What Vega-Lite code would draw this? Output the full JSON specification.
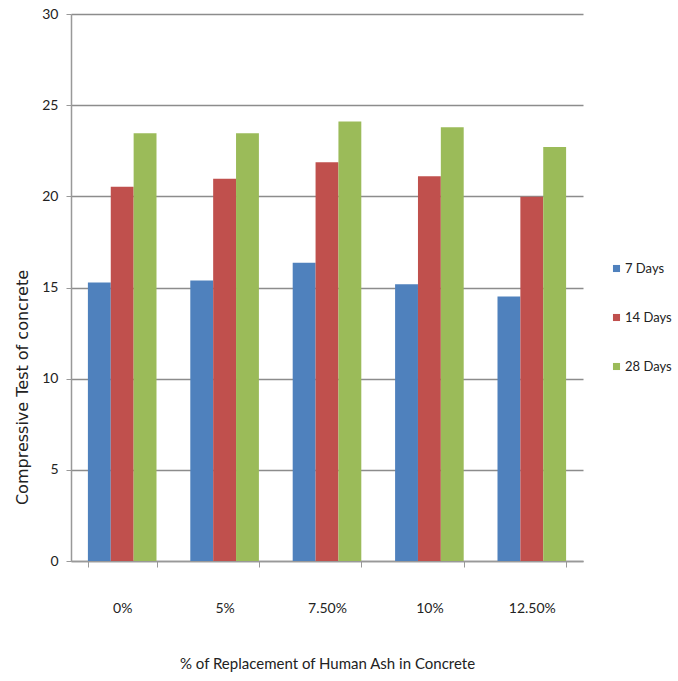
{
  "$schema": "https://vega.github.io/schema/vega-lite/v6.json",
  "width": 512,
  "height": 547,
  "autosize": {"type": "none"},
  "padding": {"left": 71, "top": 14, "right": 95, "bottom": 120},
  "background": "white",
  "data": {
    "values": [
      {"pct": "0%", "age": "7 Days", "v": 15.27},
      {"pct": "0%", "age": "14 Days", "v": 20.53},
      {"pct": "0%", "age": "28 Days", "v": 23.46},
      {"pct": "5%", "age": "7 Days", "v": 15.38},
      {"pct": "5%", "age": "14 Days", "v": 20.97},
      {"pct": "5%", "age": "28 Days", "v": 23.46},
      {"pct": "7.50%", "age": "7 Days", "v": 16.36},
      {"pct": "7.50%", "age": "14 Days", "v": 21.87},
      {"pct": "7.50%", "age": "28 Days", "v": 24.1},
      {"pct": "10%", "age": "7 Days", "v": 15.18},
      {"pct": "10%", "age": "14 Days", "v": 21.1},
      {"pct": "10%", "age": "28 Days", "v": 23.79},
      {"pct": "12.50%", "age": "7 Days", "v": 14.5},
      {"pct": "12.50%", "age": "14 Days", "v": 19.98},
      {"pct": "12.50%", "age": "28 Days", "v": 22.71}
    ]
  },
  "config": {
    "font": "Lato",
    "view": {"stroke": null},
    "axis": {"labelFont": "Lato", "titleFont": "Lato", "labelColor": "#222", "titleColor": "#222", "titleFontWeight": "normal"}
  },
  "mark": {"type": "bar"},
  "encoding": {
    "x": {
      "field": "pct", "type": "nominal",
      "sort": ["0%", "5%", "7.50%", "10%", "12.50%"],
      "scale": {"paddingInner": 0.33, "paddingOuter": 0.165},
      "axis": {
        "title": "% of Replacement of Human Ash in Concrete",
        "titleFontSize": 15, "titlePadding": 41,
        "labelAngle": 0, "labelFontSize": 14, "labelPadding": 34,
        "tickBand": "extent", "tickSize": 6, "tickColor": "#999", "domainColor": "#999", "domainWidth": 1.5,
        "grid": false
      }
    },
    "xOffset": {"field": "age", "type": "nominal", "sort": ["7 Days", "14 Days", "28 Days"]},
    "y": {
      "field": "v", "type": "quantitative",
      "scale": {"domain": [0, 30]},
      "axis": {
        "title": "Compressive Test of concrete",
        "titleFont": "DejaVu Sans",
        "titleFontSize": 16, "titleX": -49, "titleY": 373, "titleBaseline": "middle", "titleAlign": "center", "titleAngle": -90,
        "values": [0, 5, 10, 15, 20, 25, 30],
        "labelFontSize": 14, "labelPadding": 8,
        "tickSize": 5, "tickColor": "#999", "domainColor": "#999", "domainWidth": 1.5,
        "gridColor": "#8c8c8c", "gridWidth": 1.5
      }
    },
    "color": {
      "field": "age", "type": "nominal",
      "sort": ["7 Days", "14 Days", "28 Days"],
      "scale": {"domain": ["7 Days", "14 Days", "28 Days"], "range": ["#4F81BD", "#C0504D", "#9BBB59"]},
      "legend": {
        "title": null, "orient": "none", "legendX": 539, "legendY": 248, "padding": 0,
        "symbolType": "square", "symbolSize": 50, "labelFontSize": 13,
        "rowPadding": 35, "labelColor": "#222", "labelOffset": 2
      }
    }
  }
}
